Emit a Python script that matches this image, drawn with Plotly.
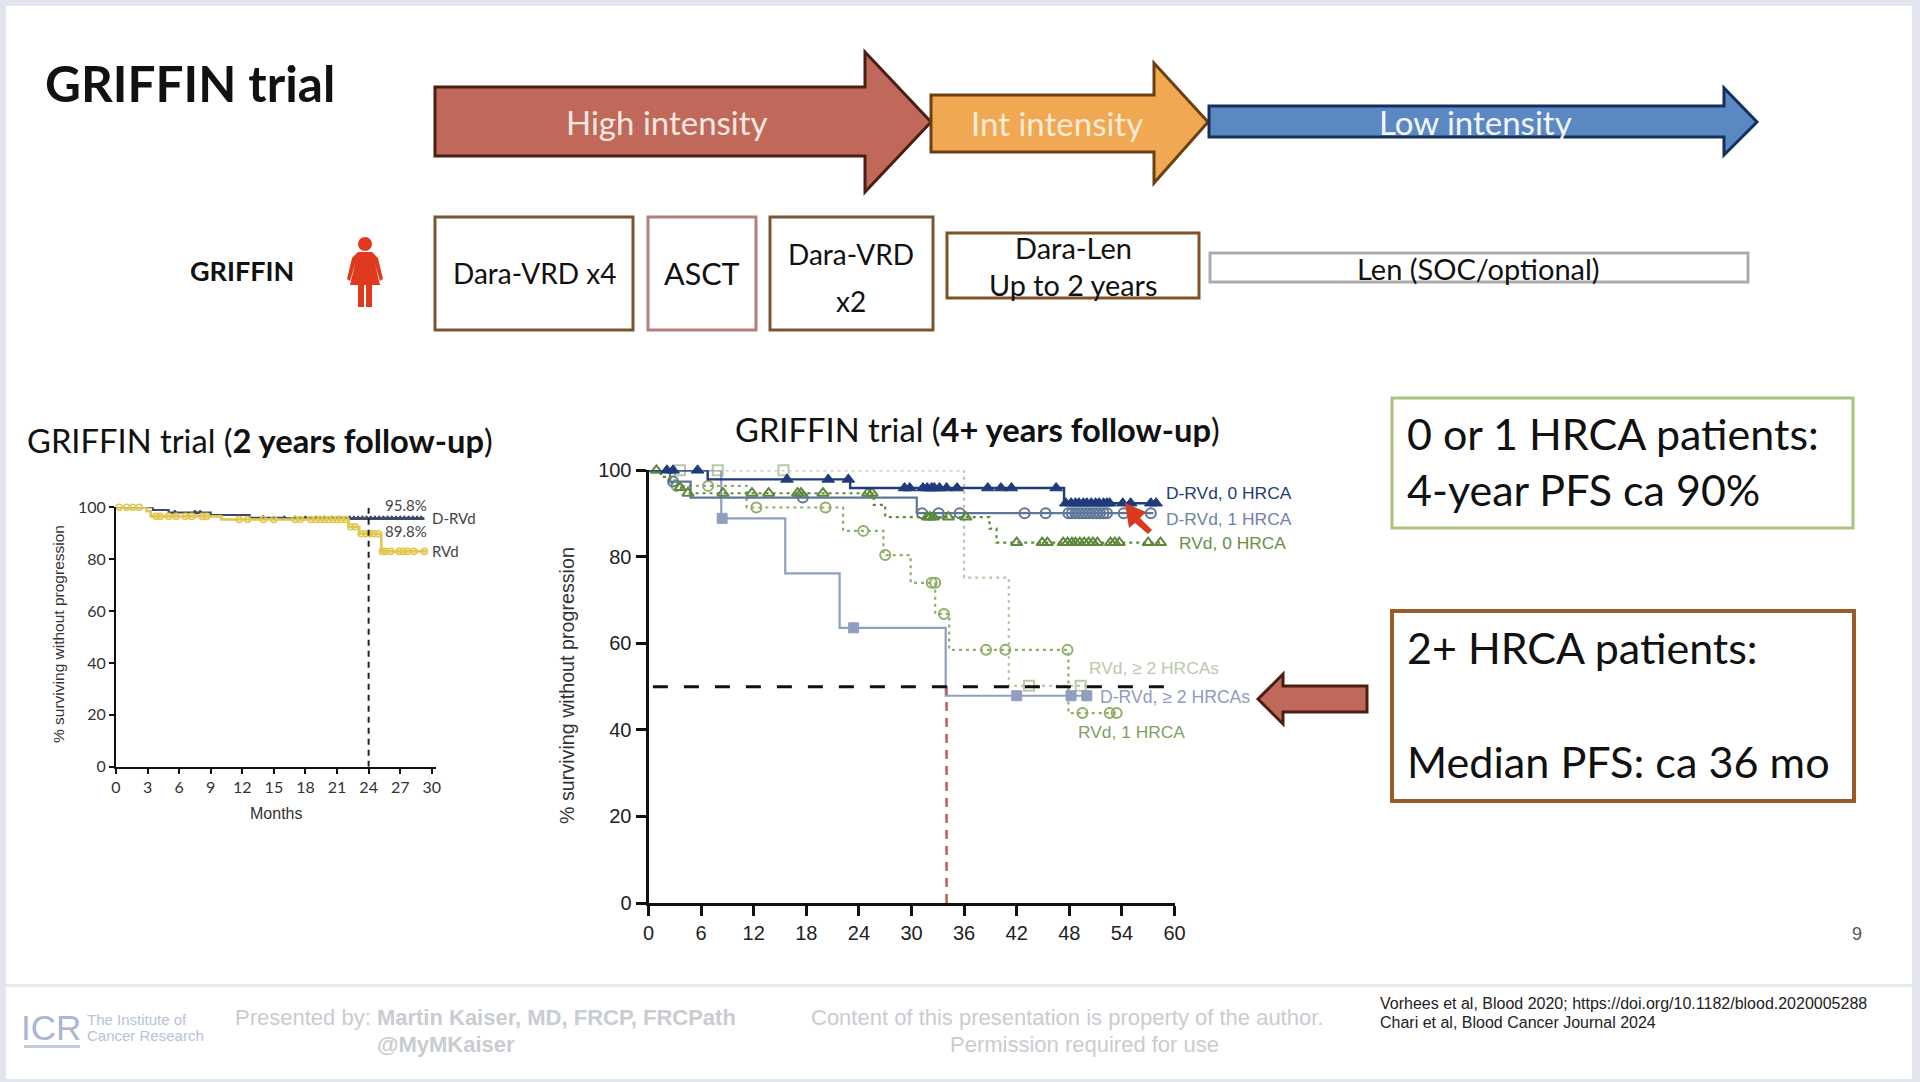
import plotly.graph_objects as go

W, H = 1920, 1082

# ---------- main chart data (months, % surviving without progression) ----------
x_ticks_main = [0, 6, 12, 18, 24, 30, 36, 42, 48, 54, 60]
y_ticks = [0, 20, 40, 60, 80, 100]

drvd0_x = [0, 6.75, 23, 47.4, 58.3]
drvd0_y = [100, 97.9, 95.9, 92.4, 92.4]
drvd0_mx = [2.1, 2.8, 5.6, 15.8, 20.5, 22.8, 29.2, 29.8, 31.3, 31.8, 32.3, 32.6, 33.2, 34.0, 35.2,
            38.7, 40.2, 41.4, 46.5, 47.6, 48.2, 48.7, 49.1, 49.6, 50.0, 50.5, 51.0, 51.4, 51.9, 52.3,
            52.6, 54.1, 55.0, 57.3, 57.9]

drvd1_x = [0, 2.45, 4.8, 30.6, 57.6]
drvd1_y = [100, 97.4, 93.7, 90.1, 90.1]
drvd1_mx = [2.8, 17.6, 31.2, 33.1, 35.5, 42.9, 45.3, 47.9, 48.3, 48.7, 49.1, 49.5, 49.9, 50.3, 50.7,
            51.1, 51.5, 51.9, 52.3, 54.2, 57.3]

rvd0_x = [0, 1.4, 2.5, 3.6, 4.5, 25.7, 27, 38.9, 39.7, 58.5]
rvd0_y = [100, 98.5, 97, 96, 94.7, 92, 89.2, 86.5, 83.3, 83.3]
rvd0_mx = [0.9, 3.6, 4.5, 8.5, 11.8, 13.7, 17.0, 17.4, 19.9, 25.0, 25.5, 31.8, 32.1, 32.5, 34.2, 36.2,
           42.0, 44.9, 45.5, 47.3, 47.8, 48.3, 48.7, 49.2, 49.7, 50.2, 50.7, 51.2, 52.7, 53.2, 53.7,
           57.0, 58.4]

rvd1_x = [0, 3, 11.2, 22.2, 26.8, 29.9, 32.7, 34.3, 47.9, 53.6]
rvd1_y = [100, 96.4, 91.4, 86, 80.4, 74, 66.8, 58.5, 43.9, 43.9]
rvd1_mx = [3.2, 6.8, 12.3, 20.2, 24.5, 27.0, 32.3, 32.7, 33.7, 38.5, 40.7, 47.8, 49.5, 52.6, 53.4]
rvd1_my = [96.4, 96.4, 91.4, 91.4, 86, 80.4, 74, 74, 66.8, 58.5, 58.5, 58.5, 43.9, 43.9, 43.9]

drvd2_x = [0, 8.3, 15.6, 21.8, 33.9, 50]
drvd2_y = [100, 88.9, 76.2, 63.6, 47.9, 47.9]
drvd2_mx = [8.4, 23.4, 42.0, 48.2, 50.0]

rvd2_x = [0, 36, 41.1, 50]
rvd2_y = [100, 75.2, 50.2, 50.2]
rvd2_mx = [3.6, 7.9, 15.4, 43.4, 49.3]

median_x = [0.5, 60]
median_y = [50, 50]
median_time_x = [34, 34]
median_time_y = [0, 51.5]

# ---------- small chart data ----------
x_ticks_small = [0, 3, 6, 9, 12, 15, 18, 21, 24, 27, 30]
small_d_x = [0, 3.5, 5, 9, 12.7, 16, 29.3]
small_d_y = [100, 99, 98, 97, 96, 95.8, 95.8]
small_d_mx = [5.6, 7.5, 8.0, 14.0, 16.0, 17.0, 18.0, 19.0, 19.8, 20.5, 21.2, 22.2, 22.6, 23.0, 23.4, 23.8,
              24.2, 24.6, 25.0, 25.4, 25.8, 26.2, 26.6, 27.0, 27.4, 27.8, 28.2, 28.6, 29.0]
small_r_x = [0, 2.9, 3.3, 10, 22.1, 23.1, 25.2, 29.5]
small_r_y = [100, 98.5, 96.5, 95.3, 92.5, 89.8, 83, 83]
small_r_mx = [0.3, 1.0, 1.6, 2.2, 3.8, 4.2, 5.0, 5.7, 6.6, 7.2, 8.2, 8.6, 11.7, 12.5, 14.0, 15.0, 17.0, 17.5,
              18.5, 19.0, 19.4, 19.8, 20.2, 20.6, 21.0, 21.4, 21.8, 22.3, 22.7, 23.3, 23.7, 24.1, 24.5, 24.9,
              25.3, 25.6, 26.1, 26.9, 27.3, 27.7, 28.3, 29.3]
small_cut_x = [24, 24]
small_cut_y = [0, 101.5]


def step_at(xs, ys, m):
    val = ys[0]
    for a, b in zip(xs, ys):
        if a <= m:
            val = b
    return val


def px(x):
    return x / W


def py(y):
    return 1 - y / H


def path(points):
    return "M " + " L ".join(f"{px(a):.5f},{py(b):.5f}" for a, b in points) + " Z"


NAVY = "#1F3B7C"
BLUE1 = "#5F7699"
GREEN0 = "#5C8A3A"
GREEN1 = "#8DAF68"
PERI = "#909EC0"
PALE = "#B9C9A6"
SANS = "Liberation Sans"
LATO = "Lato"

fig = go.Figure()


def km(xs, ys, color, dash, width, mx, symbol, msize, mcolor=None, my=None, xa="x", ya="y", mlw=2, name=""):
    fig.add_trace(go.Scatter(x=xs, y=ys, mode="lines", xaxis=xa, yaxis=ya, cliponaxis=False, showlegend=False,
                             name=name, line=dict(color=color, width=width, dash=dash, shape="hv")))
    if my is None:
        my = [step_at(xs, ys, m) for m in mx]
    fig.add_trace(go.Scatter(x=mx, y=my, mode="markers", xaxis=xa, yaxis=ya, cliponaxis=False, showlegend=False,
                             name=name, marker=dict(symbol=symbol, size=msize, color=mcolor or color,
                                                    line=dict(color=mcolor or color, width=mlw))))


# main chart series
km(rvd2_x, rvd2_y, PALE, "3px,4px", 2.2, rvd2_mx, "square-open", 10, name="RVd, >=2 HRCAs")
km(rvd1_x, rvd1_y, GREEN1, "3px,4px", 2.2, rvd1_mx, "circle-open", 10, my=rvd1_my, name="RVd, 1 HRCA")
km(drvd2_x, drvd2_y, PERI, None, 2.2, drvd2_mx, "square", 10, mlw=1, name="D-RVd, >=2 HRCAs")
km(drvd1_x, drvd1_y, BLUE1, None, 2.2, drvd1_mx, "circle-open", 10, name="D-RVd, 1 HRCA")
km(rvd0_x, rvd0_y, GREEN0, "3px,4px", 2.2, rvd0_mx, "triangle-up-open", 10, name="RVd, 0 HRCA")
km(drvd0_x, drvd0_y, NAVY, None, 2.4, drvd0_mx, "triangle-up", 11, mlw=1, name="D-RVd, 0 HRCA")
fig.add_trace(go.Scatter(x=median_time_x, y=median_time_y, mode="lines", showlegend=False, cliponaxis=False,
                         line=dict(color="#B5625A", width=2.5, dash="9px,7px")))
fig.add_trace(go.Scatter(x=median_x, y=median_y, mode="lines", showlegend=False, cliponaxis=False,
                         line=dict(color="#111111", width=3, dash="15px,16px")))

# small chart series
km(small_d_x, small_d_y, "#3E4A63", None, 2, small_d_mx, "triangle-up", 5, xa="x2", ya="y2", mlw=1, name="D-RVd")
km(small_r_x, small_r_y, "#E2C74F", None, 2.6, small_r_mx, "circle-open", 6, xa="x2", ya="y2", mlw=1.6, name="RVd")
fig.add_trace(go.Scatter(x=small_cut_x, y=small_cut_y, mode="lines", xaxis="x2", yaxis="y2", showlegend=False,
                         cliponaxis=False, line=dict(color="#222222", width=2, dash="6px,5px")))

shapes = []


def rect(x0, y0, x1, y1, fill=None, line=None, lw=0, layer="below"):
    shapes.append(dict(type="rect", xref="paper", yref="paper", x0=px(x0), x1=px(x1), y0=py(y0), y1=py(y1),
                       fillcolor=fill or "rgba(0,0,0,0)", line=dict(color=line or "rgba(0,0,0,0)", width=lw),
                       layer=layer))


def poly(points, fill, line=None, lw=0, layer="below"):
    shapes.append(dict(type="path", xref="paper", yref="paper", path=path(points), fillcolor=fill,
                       line=dict(color=line or fill, width=lw), layer=layer))


# slide background and footer
rect(6, 6, 1912, 1079, fill="#FFFFFF")
rect(6, 984, 1912, 987, fill="#E6EAF0")

# intensity arrows
poly([(435, 87), (865, 87), (865, 52), (931, 122), (865, 192), (865, 156), (435, 156)], "#C0685A", "#4A1E12", 3)
poly([(931, 95), (1154, 95), (1154, 63), (1208, 122), (1154, 183), (1154, 152), (931, 152)], "#F0A853", "#6B3F12", 3)
poly([(1209, 106), (1724, 106), (1724, 88), (1757, 122), (1724, 155), (1724, 137), (1209, 137)], "#5B88C3", "#14305A", 3)

# treatment boxes
rect(435, 217, 633, 330, fill="#FFFFFF", line="#7A5530", lw=3)
rect(648, 217, 756, 330, fill="#FFFFFF", line="#B27F7C", lw=3)
rect(770, 217, 933, 330, fill="#FFFFFF", line="#7A5530", lw=3)
rect(947, 233, 1199, 298, fill="#FFFFFF", line="#7F5228", lw=3)
rect(1210, 253, 1748, 282, fill="#FFFFFF", line="#ABABAB", lw=3)

# person icon
RED = "#E03A1E"
shapes.append(dict(type="circle", xref="paper", yref="paper", x0=px(358), x1=px(372), y0=py(237), y1=py(251),
                   fillcolor=RED, line=dict(width=0), layer="below"))
poly([(358, 252), (372, 252), (378, 258), (383, 279), (380, 281), (375, 264), (380, 285), (350, 285), (355, 264),
      (350, 281), (347, 279), (352, 258)], RED)
rect(358, 285, 364, 307, fill=RED)
rect(366, 285, 372, 307, fill=RED)

# call-out boxes
rect(1392, 398, 1853, 528, fill="#FFFFFF", line="#A9C47F", lw=3)
rect(1392, 611, 1854, 801, fill="#FFFFFF", line="#9A5B2A", lw=4)
poly([(1258, 699), (1283, 674), (1283, 686), (1367, 686), (1367, 712), (1283, 712), (1283, 724)], "#C0685A", "#4A1E12", 3)

# cursor
poly([(1125, 503), (1146, 512), (1140, 518), (1152, 530), (1148, 534), (1135, 523), (1129, 528)], "#D9391C", layer="above")

# ICR logo bar
rect(24, 1045, 80, 1048, fill="#C2CBDD")

anns = []


def text(s, x, y, size, color="#111111", family=LATO, anchor="center", valign="middle", angle=0):
    if anchor == "left":
        x -= 2.5
    anns.append(dict(text=s, x=px(x), y=py(y), xref="paper", yref="paper", xanchor=anchor, yanchor=valign,
                     showarrow=False, textangle=angle, font=dict(size=size, color=color, family=family)))


text("<b>GRIFFIN trial</b>", 45, 83, 49.5, anchor="left")
text("High intensity", 667, 122, 33, "#F6E9E2")
text("Int intensity", 1057, 123, 33, "#FBEBD6")
text("Low intensity", 1475, 122, 33, "#F2F6FB")
text("<b>GRIFFIN</b>", 242, 271, 27)
text("Dara-VRD x4", 534, 273, 28)
text("ASCT", 702, 273, 30.5)
text("Dara-VRD", 851, 254, 28)
text("x2", 851, 301, 28)
text("Dara-Len", 1073, 247, 29)
text("Up to 2 years", 1073, 285, 28.8)
text("Len (SOC/optional)", 1478, 268, 29)
text("GRIFFIN trial (<b>2 years follow-up</b>)", 27, 441, 32.7, anchor="left")
text("GRIFFIN trial (<b>4+ years follow-up</b>)", 735, 429, 32.7, anchor="left")
text("0 or 1 HRCA patients:", 1407, 433, 43, anchor="left")
text("4-year PFS ca 90%", 1407, 490, 43, anchor="left")
text("2+ HRCA patients:", 1407, 647, 43, anchor="left")
text("Median PFS: ca 36 mo", 1407, 761, 43.2, anchor="left")

# chart labels
text("% surviving without progression", 567, 686, 19.7, "#333333", SANS, angle=-90)
text("D-RVd, 0 HRCA", 1166, 493, 17.4, "#233D73", SANS, anchor="left")
text("D-RVd, 1 HRCA", 1166, 519, 17.4, "#6E83A8", SANS, anchor="left")
text("RVd, 0 HRCA", 1179, 543, 17.4, "#6B8E45", SANS, anchor="left")
text("RVd, ≥ 2 HRCAs", 1089, 668, 17.4, "#BAC9AA", SANS, anchor="left")
text("D-RVd, ≥ 2 HRCAs", 1100, 697, 17.6, "#8E9CBE", SANS, anchor="left")
text("RVd, 1 HRCA", 1078, 732, 17.4, "#7F9F5F", SANS, anchor="left")

text("% surviving without progression", 58, 634, 15.5, "#333333", SANS, angle=-90)
text("Months", 276, 813, 16, "#333333", SANS)
text("95.8%", 385, 505, 15, "#444444", LATO, anchor="left")
text("89.8%", 385, 531, 15, "#444444", LATO, anchor="left")
text("D-RVd", 432, 518, 15, "#444444", LATO, anchor="left")
text("RVd", 432, 551, 15, "#444444", LATO, anchor="left")

# footer
GREY = "#C9CCD0"
text("Presented by: <b>Martin Kaiser, MD, FRCP, FRCPath</b>", 235, 1017, 22, GREY, SANS, anchor="left")
text("<b>@MyMKaiser</b>", 446, 1044, 22, GREY, SANS)
text("Content of this presentation is property of the author.", 1067, 1017, 22, GREY, SANS)
text("Permission required for use", 1084, 1044, 22, GREY, SANS)
text("Vorhees et al, Blood 2020; https://doi.org/10.1182/blood.2020005288", 1380, 1003, 16, "#222222", SANS, anchor="left")
text("Chari et al, Blood Cancer Journal 2024", 1380, 1022, 16, "#222222", SANS, anchor="left")
text("9", 1857, 934, 18, "#555555", SANS)
text("ICR", 21, 1027, 35, "#A9B7D2", SANS, anchor="left")
text("The Institute of", 87, 1019, 15, "#B8C2D8", SANS, anchor="left")
text("Cancer Research", 87, 1035, 15, "#B8C2D8", SANS, anchor="left")


def axis(domain, rng, ticks, font, lw, tick_len, tick_w, anchor):
    return dict(domain=domain, range=rng, tickmode="array", tickvals=ticks, ticktext=[str(t) for t in ticks],
                showgrid=False, zeroline=False, showline=True, linecolor="#111111", linewidth=lw,
                ticks="outside", ticklen=tick_len, tickwidth=tick_w, tickcolor="#111111", tickfont=font,
                anchor=anchor, fixedrange=True, automargin=False)


main_font = dict(family=SANS, size=20, color="#222222")
small_font = dict(family=LATO, size=16, color="#333333")

fig.update_layout(
    width=W, height=H, margin=dict(l=0, r=0, t=0, b=0, pad=0), autosize=False,
    paper_bgcolor="#E3E5EE", plot_bgcolor="rgba(0,0,0,0)", showlegend=False,
    xaxis=axis([px(648.5), px(1174.5)], [0, 60], x_ticks_main, main_font, 3, 10, 2.5, "y"),
    yaxis=axis([py(903), py(470.3)], [0, 100], y_ticks, main_font, 3, 10, 2.5, "x"),
    xaxis2=axis([px(116), px(436)], [0, 30.4], x_ticks_small, small_font, 2, 5, 1.5, "y2"),
    yaxis2=axis([py(766.7), py(507.3)], [0, 100], y_ticks, small_font, 2, 5, 1.5, "x2"),
    shapes=shapes, annotations=anns,
)

fig.write_html(
    "out.html",
    config={"displayModeBar": False},
    post_script="var s=document.createElement('style');s.textContent='html,body{margin:0!important;padding:0;overflow:hidden;background:#E3E5EE}';document.head.appendChild(s);",
)
